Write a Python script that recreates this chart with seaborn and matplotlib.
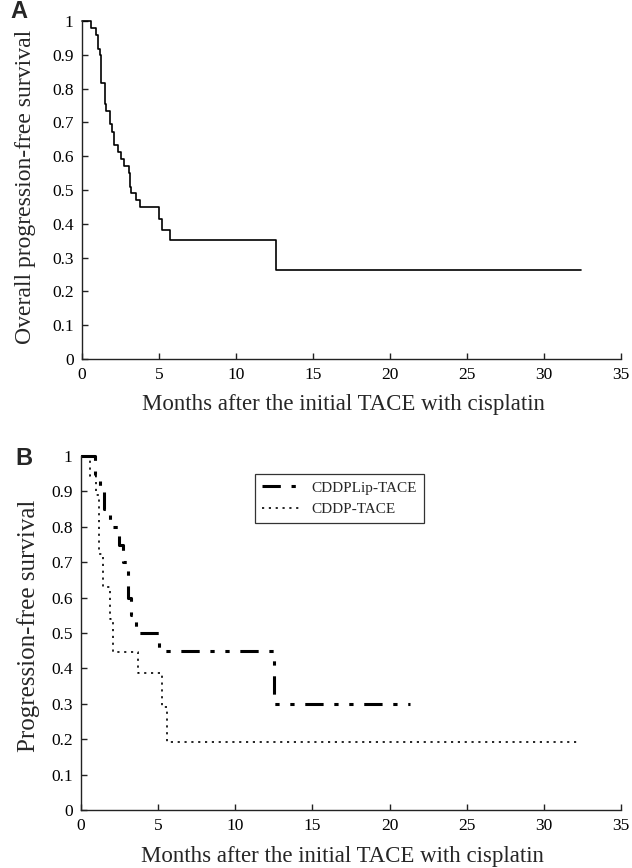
import matplotlib
matplotlib.use("Agg")
import matplotlib.pyplot as plt
import seaborn as sns
import pandas as pd

# ---------------- data ----------------
# Panel A: overall progression-free survival (Kaplan-Meier steps)
a_months = [0, 0.56, 0.93, 1.04, 1.15, 1.21, 1.47, 1.54, 1.80, 1.95, 2.06, 2.34, 2.56,
            2.71, 3.03, 3.10, 3.16, 3.51, 3.79, 5.00, 5.22, 5.69, 12.62, 32.4]
a_surv = [1.0, 0.980, 0.959, 0.918, 0.898, 0.816, 0.755, 0.735, 0.694, 0.673, 0.633, 0.612,
          0.592, 0.571, 0.551, 0.510, 0.490, 0.469, 0.449, 0.414, 0.382, 0.352, 0.263, 0.263]

# Panel B: CDDPLip-TACE
lip_months = [0, 0.90, 1.26, 1.49, 1.85, 2.45, 2.73, 3.05, 3.23, 3.55, 5.04, 12.53, 21.3]
lip_surv = [1.0, 0.95, 0.90, 0.85, 0.80, 0.75, 0.70, 0.60, 0.55, 0.50, 0.45, 0.30, 0.30]

# Panel B: CDDP-TACE
cddp_months = [0, 0.60, 1.00, 1.18, 1.43, 1.86, 2.08, 3.72, 5.24, 5.56, 32.2]
cddp_surv = [1.0, 0.944, 0.889, 0.722, 0.63, 0.54, 0.446, 0.387, 0.292, 0.192, 0.192]

series_labels = ["CDDPLip-TACE", "CDDP-TACE"]
x_ticks = [0, 5, 10, 15, 20, 25, 30, 35]
y_ticks = [0, 0.1, 0.2, 0.3, 0.4, 0.5, 0.6, 0.7, 0.8, 0.9, 1.0]
y_ticklabels = ["0", "0.1", "0.2", "0.3", "0.4", "0.5", "0.6", "0.7", "0.8", "0.9", "1"]
xlabel = "Months after the initial TACE with cisplatin"
ylabel_a = "Overall progression-free survival"
ylabel_b = "Progression-free survival"

# ---------------- style ----------------
sns.set_style("ticks")
plt.rcParams["font.family"] = ["Liberation Serif", "DejaVu Serif"]
plt.rcParams["axes.linewidth"] = 1.0
plt.rcParams["axes.edgecolor"] = "#222222"

fig = plt.figure(figsize=(6.32, 8.68), dpi=100)
W, H = 632, 868


def px_axes(left, top, right, bottom):
    return fig.add_axes([left / W, 1 - bottom / H, (right - left) / W, (bottom - top) / H])


ax_a = px_axes(82, 21, 621, 359)
ax_b = px_axes(81, 456, 621, 810)

df_a = pd.DataFrame({"month": a_months, "surv": a_surv})
sns.lineplot(data=df_a, x="month", y="surv", ax=ax_a, drawstyle="steps-post",
             estimator=None, color="black", linewidth=1.2)

df_lip = pd.DataFrame({"month": lip_months, "surv": lip_surv})
df_cddp = pd.DataFrame({"month": cddp_months, "surv": cddp_surv})
sns.lineplot(data=df_lip, x="month", y="surv", ax=ax_b, drawstyle="steps-post",
             estimator=None, color="black", linewidth=2.2, label=series_labels[0])
sns.lineplot(data=df_cddp, x="month", y="surv", ax=ax_b, drawstyle="steps-post",
             estimator=None, color="black", linewidth=1.2, label=series_labels[1])

ax_b.lines[0].set_linestyle((0, (6, 3.5, 1.4, 3.5, 1.4, 3.5)))
ax_b.lines[1].set_linestyle((0, (1.3, 2.8)))

for ax in (ax_a, ax_b):
    for ln in ax.lines:
        ln.set_clip_on(False)
    ax.set_xlim(0, 35)
    ax.set_ylim(0, 1)
    ax.set_xticks(x_ticks)
    ax.set_xticklabels([str(v) for v in x_ticks])
    ax.set_yticks(y_ticks)
    ax.set_yticklabels(y_ticklabels)
    ax.tick_params(direction="in", length=4.5, width=1.0, pad=6, labelsize=12.5,
                   colors="#222222", labelcolor="black")
    sns.despine(ax=ax)
    ax.set_xlabel(xlabel, fontsize=16.5, va="top")
    ax.xaxis.set_label_coords(0.485, -0.103)

ax_a.set_ylabel(ylabel_a, fontsize=17)
ax_a.yaxis.label.set_verticalalignment("center")
ax_a.yaxis.set_label_coords(-0.105, 0.51)

ax_b.set_ylabel(ylabel_b, fontsize=18)
ax_b.yaxis.label.set_verticalalignment("center")
ax_b.yaxis.set_label_coords(-0.097, 0.52)

leg = ax_b.legend(loc="upper left", bbox_to_anchor=(0.323, 0.949), borderaxespad=0,
                  fontsize=11, frameon=True, fancybox=False, handlelength=2.6,
                  labelspacing=0.5, borderpad=0.45, handletextpad=0.6)
leg.get_frame().set_edgecolor("black")
leg.get_frame().set_linewidth(0.9)

fig.text(18.5 / W, 1 - 12 / H, "A", fontsize=17, fontweight="bold",
         family=["Liberation Sans", "DejaVu Sans"], ha="center", va="center")
fig.text(24 / W, 1 - 459 / H, "B", fontsize=17, fontweight="bold",
         family=["Liberation Sans", "DejaVu Sans"], ha="center", va="center")

fig.savefig("out.png", dpi=100)
